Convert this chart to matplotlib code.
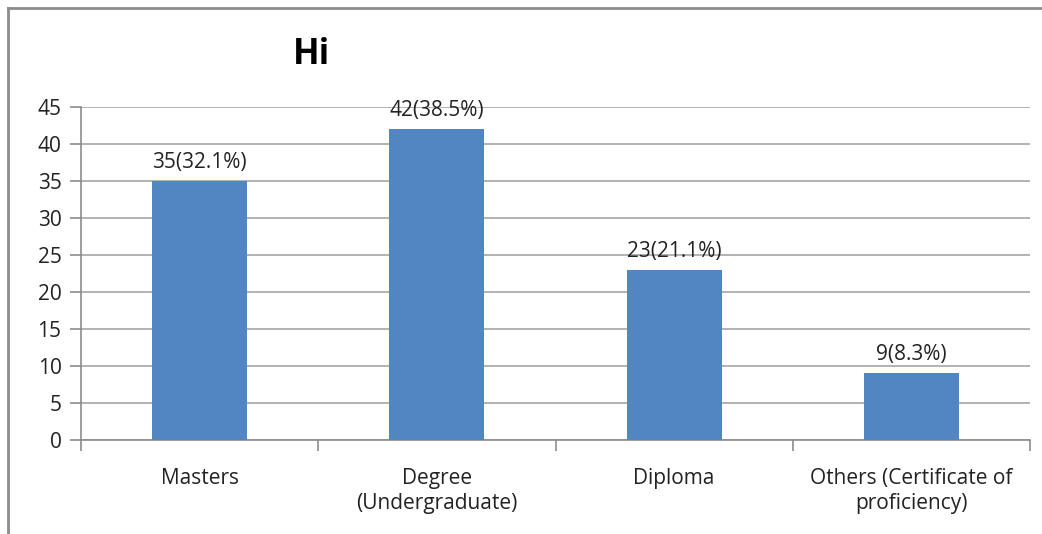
import matplotlib
matplotlib.use("Agg")
import matplotlib.pyplot as plt
from matplotlib.lines import Line2D

plt.rcParams['font.family'] = ['Open Sans', 'DejaVu Sans']

categories = ["Masters", "Degree\n(Undergraduate)", "Diploma", "Others (Certificate of\nproficiency)"]
counts = [35, 42, 23, 9]
percents = [32.1, 38.5, 21.1, 8.3]
yticks = [0, 5, 10, 15, 20, 25, 30, 35, 40, 45]

W, H = 1042, 534
fig = plt.figure(figsize=(W / 100, H / 100), dpi=100)

# outer chart frame (left and top edges)
grey = "#8c8c8c"
fig.add_artist(Line2D([8 / W, 8 / W], [0, 1 - 8 / H], transform=fig.transFigure, color=grey, lw=2))
fig.add_artist(Line2D([8 / W, 1], [1 - 8 / H, 1 - 8 / H], transform=fig.transFigure, color=grey, lw=2))

left, right, top, bottom = 81, 1030, 107, 440
ax = fig.add_axes([left / W, 1 - bottom / H, (right - left) / W, (bottom - top) / H])

fs = 15
x = list(range(len(categories)))
bars = ax.bar(x, counts, width=0.4, color="#5286C2", zorder=3)

ax.set_xlim(-0.5, len(categories) - 0.5)
ax.set_ylim(0, 45)
ax.set_yticks(yticks)
ax.set_yticklabels([str(v) for v in yticks], fontsize=fs, color="#222222")
ax.yaxis.grid(True, color="#a6a6a6", lw=1.2, zorder=0)

ax.set_xticks(x)
ax.set_xticklabels(categories, fontsize=fs, color="#222222", linespacing=1.25)
ax.tick_params(axis="x", length=0, pad=20)
ax.set_xticks([i - 0.5 for i in range(len(categories) + 1)], minor=True)
ax.tick_params(axis="x", which="minor", length=8, color="#8c8c8c", width=1.2)
ax.tick_params(axis="y", length=8, color="#8c8c8c", width=1.2, pad=6)

for s in ["top", "right"]:
    ax.spines[s].set_visible(False)
for s in ["left", "bottom"]:
    ax.spines[s].set_color("#8c8c8c")
    ax.spines[s].set_linewidth(1.2)

for xi, c, p in zip(x, counts, percents):
    ax.text(xi, c + 1.1, f"{c}({p}%)", ha="center", va="bottom", fontsize=fs, color="#222222")

fig.text(312 / W, 1 - 55 / H, "Hi", ha="center", va="center", fontsize=25, fontweight="bold")

fig.savefig("out.png", dpi=100)
